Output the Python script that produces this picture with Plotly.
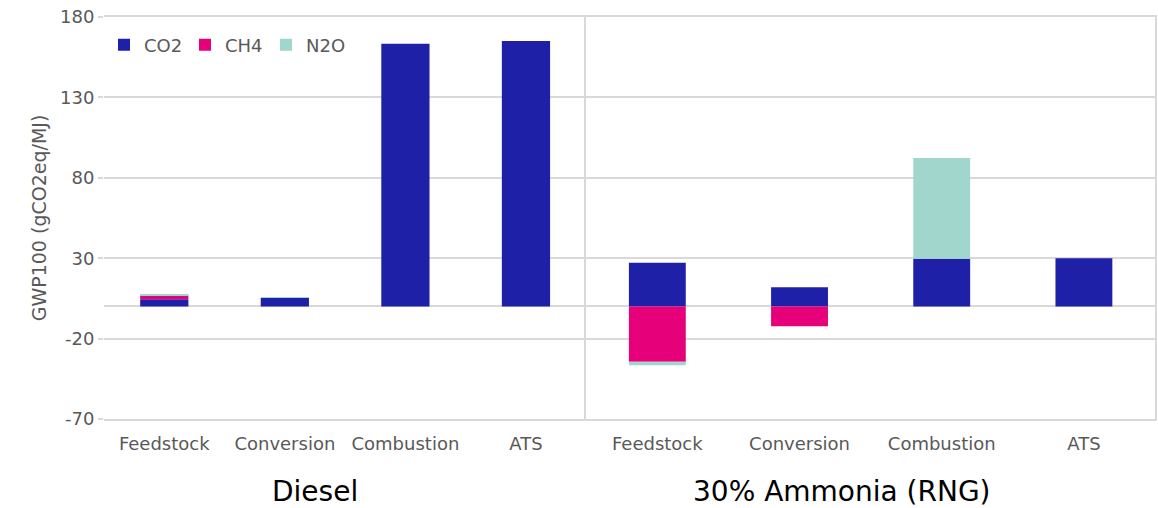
import plotly.graph_objects as go
from plotly.subplots import make_subplots

stages = ["Feedstock", "Conversion", "Combustion", "ATS"]
groups = ["Diesel", "30% Ammonia (RNG)"]

diesel_co2 = [4.5, 5.3, 163.3, 165.1]
diesel_ch4 = [2.5, 0.0, 0.0, 0.0]
diesel_n2o = [0.3, 0.2, 0.0, 0.0]

ammonia_co2 = [27.1, 12.0, 29.6, 30.0]
ammonia_ch4 = [-34.4, -12.3, 0.0, 0.0]
ammonia_n2o = [-2.2, 0.0, 62.7, 0.0]

y_ticks = [-70, -20, 30, 80, 130, 180]

gas_names = ["CO2", "CH4", "N2O"]
gas_colors = ["#1F20A8", "#E6007A", "#A0D6CC"]

FONT = "DejaVu Sans"
GREY = "#595959"
GRID = "#D9D9D9"

fig = make_subplots(rows=1, cols=2, shared_yaxes=True,
                    column_widths=[485, 572], horizontal_spacing=0)

series = [
    (1, [diesel_co2, diesel_ch4, diesel_n2o]),
    (2, [ammonia_co2, ammonia_ch4, ammonia_n2o]),
]
for col, vals in series:
    for name, color, v in zip(gas_names, gas_colors, vals):
        fig.add_trace(go.Bar(
            x=stages, y=v, name=name, legendgroup=name,
            showlegend=(col == 1),
            marker=dict(color=color, line=dict(width=0)),
        ), row=1, col=col)

fig.update_layout(
    barmode="relative",
    bargap=0.6,
    width=1158, height=508,
    margin=dict(l=104, r=1, t=17, b=89),
    plot_bgcolor="white", paper_bgcolor="white",
    font=dict(family=FONT, size=18, color=GREY),
    legend=dict(orientation="h", x=0.0, y=0.93, yanchor="middle",
                xanchor="left", font=dict(size=18, color=GREY),
                bgcolor="rgba(0,0,0,0)", entrywidth=36,
                itemwidth=30, tracegroupgap=0),
)

for c in (1, 2):
    fig.update_xaxes(row=1, col=c, showgrid=False,
                     showline=True, mirror=True, linecolor=GRID, linewidth=2,
                     ticks="", tickfont=dict(size=18, color=GREY),
                     ticklabelstandoff=7)

fig.update_yaxes(range=[-70, 180], tickvals=y_ticks,
                 ticktext=[str(v) for v in y_ticks],
                 ticklabeloverflow="allow",
                 showgrid=True, gridcolor=GRID, gridwidth=2,
                 zeroline=True, zerolinecolor=GRID, zerolinewidth=2,
                 tickfont=dict(size=18, color=GREY))
fig.update_yaxes(row=1, col=1, ticks="outside", ticklen=5, tickcolor=GRID,
                 tickwidth=2,
                 title=dict(text="GWP100 (gCO2eq/MJ)",
                            font=dict(size=19, color=GREY), standoff=8))
fig.update_yaxes(row=1, col=2, showline=True, mirror=True,
                 linecolor=GRID, linewidth=2, showticklabels=False)

fig.add_annotation(text=groups[0], xref="x domain", yref="paper",
                   x=0.437, y=-0.18, yanchor="middle", showarrow=False,
                   font=dict(size=28, color="black", family=FONT))
fig.add_annotation(text=groups[1], xref="x2 domain", yref="paper",
                   x=0.45, y=-0.18, yanchor="middle", showarrow=False,
                   font=dict(size=28, color="black", family=FONT))

fig.write_html("out.html", config={"displayModeBar": False},
               post_script="document.body.style.margin='0';"
                           "document.body.style.overflow='hidden';")
